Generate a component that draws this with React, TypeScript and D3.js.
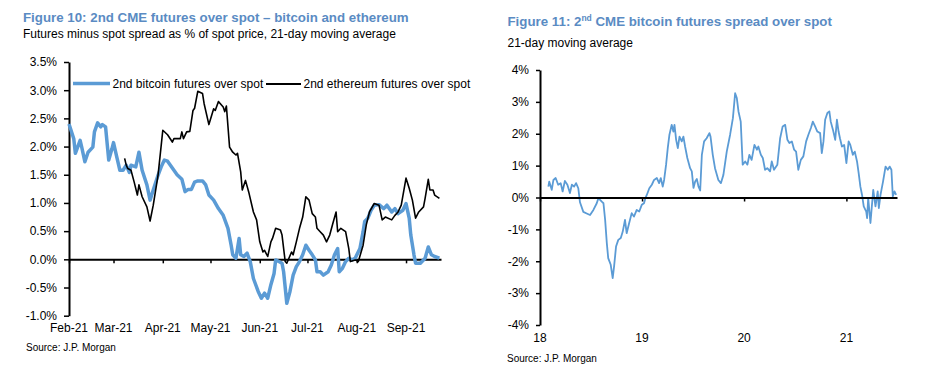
import * as d3 from "d3";
import React, { useRef, useEffect } from "react";

// Figure 10 - 2nd CME futures over spot, % of spot, 21d MA
const btcDates = [
  "2021-02-01", "2021-02-04", "2021-02-05", "2021-02-08", "2021-02-09", "2021-02-11", "2021-02-13",
  "2021-02-16", "2021-02-17", "2021-02-19", "2021-02-21", "2021-02-22", "2021-02-24", "2021-02-26",
  "2021-02-28", "2021-03-01", "2021-03-03", "2021-03-05", "2021-03-07", "2021-03-09", "2021-03-11",
  "2021-03-12", "2021-03-15", "2021-03-17", "2021-03-19", "2021-03-22", "2021-03-24", "2021-03-27",
  "2021-03-29", "2021-03-31", "2021-04-02", "2021-04-04", "2021-04-07", "2021-04-10", "2021-04-13",
  "2021-04-15", "2021-04-17", "2021-04-19", "2021-04-21", "2021-04-23", "2021-04-26", "2021-04-28",
  "2021-04-30", "2021-05-03", "2021-05-06", "2021-05-09", "2021-05-12", "2021-05-14", "2021-05-15",
  "2021-05-17", "2021-05-18", "2021-05-19", "2021-05-20", "2021-05-22", "2021-05-24", "2021-05-26",
  "2021-05-28", "2021-05-31", "2021-06-02", "2021-06-04", "2021-06-06", "2021-06-08", "2021-06-10",
  "2021-06-11", "2021-06-13", "2021-06-15", "2021-06-16", "2021-06-18", "2021-06-20", "2021-06-22",
  "2021-06-24", "2021-06-26", "2021-06-28", "2021-06-30", "2021-07-02", "2021-07-04", "2021-07-06",
  "2021-07-07", "2021-07-09", "2021-07-11", "2021-07-14", "2021-07-16", "2021-07-18", "2021-07-20",
  "2021-07-21", "2021-07-23", "2021-07-25", "2021-07-27", "2021-07-29", "2021-07-31", "2021-08-03",
  "2021-08-05", "2021-08-06", "2021-08-08", "2021-08-10", "2021-08-12", "2021-08-15", "2021-08-18",
  "2021-08-20", "2021-08-23", "2021-08-25", "2021-08-27", "2021-08-30", "2021-09-01", "2021-09-03",
  "2021-09-04", "2021-09-06", "2021-09-07", "2021-09-10", "2021-09-13", "2021-09-15", "2021-09-17",
  "2021-09-19", "2021-09-22",
];
const btcValues = [
  2.4, 2.14, 1.88, 2.11, 1.99, 1.73, 1.9,
  1.99, 2.26, 2.42, 2.35, 2.39, 2.35, 1.76,
  1.96, 2.07, 1.82, 1.58, 1.58, 1.67, 1.54,
  1.67, 1.64, 1.9, 1.58, 1.32, 1.05, 1.32,
  1.49, 1.64, 1.76, 1.74, 1.62, 1.5, 1.42,
  1.2, 1.24, 1.24, 1.37, 1.39, 1.39, 1.32,
  1.14, 1.05, 0.9, 0.78, 0.55, 0.25, 0.08,
  0.02, 0.19, 0.37, 0.08, 0.05, 0.11, -0.04,
  -0.34, -0.57, -0.69, -0.6, -0.69, -0.45, -0.25,
  -0.01, -0.04, -0.07, -0.22, -0.78, -0.57, -0.28,
  -0.13, -0.04, 0.08, 0.25, 0.16, 0.08, -0.01,
  -0.22, -0.22, -0.28, -0.22, -0.1, 0.08, 0.19,
  -0.22, -0.16, -0.04, 0.02, -0.01, 0.02, 0.19,
  0.49, 0.67, 0.73, 0.87, 0.96, 0.97, 0.9,
  0.96, 0.84, 0.9, 0.81, 0.87, 0.99, 0.73,
  0.43, 0.08, -0.07, -0.07, 0.02, 0.22, 0.08,
  0.05, 0.02,
];

const ethDates = [
  "2021-03-08", "2021-03-09", "2021-03-10", "2021-03-12", "2021-03-14", "2021-03-16", "2021-03-17",
  "2021-03-19", "2021-03-22", "2021-03-24", "2021-03-26", "2021-03-29", "2021-03-31", "2021-04-01",
  "2021-04-04", "2021-04-07", "2021-04-08", "2021-04-12", "2021-04-13", "2021-04-14", "2021-04-16",
  "2021-04-18", "2021-04-20", "2021-04-21", "2021-04-23", "2021-04-26", "2021-04-27", "2021-04-30",
  "2021-05-03", "2021-05-04", "2021-05-06", "2021-05-09", "2021-05-10", "2021-05-11", "2021-05-13",
  "2021-05-15", "2021-05-17", "2021-05-18", "2021-05-20", "2021-05-21", "2021-05-23", "2021-05-25",
  "2021-05-28", "2021-05-30", "2021-06-01", "2021-06-03", "2021-06-04", "2021-06-06", "2021-06-08",
  "2021-06-09", "2021-06-11", "2021-06-14", "2021-06-15", "2021-06-17", "2021-06-18", "2021-06-21",
  "2021-06-22", "2021-06-24", "2021-06-26", "2021-06-28", "2021-06-30", "2021-07-02", "2021-07-04",
  "2021-07-06", "2021-07-07", "2021-07-09", "2021-07-11", "2021-07-13", "2021-07-15", "2021-07-17",
  "2021-07-19", "2021-07-20", "2021-07-22", "2021-07-25", "2021-07-27", "2021-07-28", "2021-07-31",
  "2021-08-02", "2021-08-05", "2021-08-07", "2021-08-09", "2021-08-12", "2021-08-15", "2021-08-17",
  "2021-08-19", "2021-08-23", "2021-08-25", "2021-08-27", "2021-08-29", "2021-09-01", "2021-09-03",
  "2021-09-05", "2021-09-07", "2021-09-09", "2021-09-12", "2021-09-13", "2021-09-15", "2021-09-16",
  "2021-09-18", "2021-09-19", "2021-09-22",
];
const ethValues = [
  1.79, 1.67, 1.61, 1.58, 1.37, 1.14, 1.32,
  1.11, 0.93, 0.68, 0.96, 1.49, 2.02, 2.29,
  2.21, 2.08, 2.14, 2.14, 2.26, 2.14, 2.26,
  2.27, 2.64, 2.68, 2.98, 2.94, 2.76, 2.39,
  2.67, 2.64, 2.8, 2.7, 2.62, 2.72, 1.99,
  1.9, 1.85, 1.88, 1.55, 1.23, 1.4, 1.2,
  0.84, 0.7, 0.31, 0.13, 0.16, 0.05, 0.31,
  0.37, 0.55, 0.52, 0.43, -0.04, -0.07, 0.13,
  0.08, 0.31, 0.55, 0.75, 1.11, 1.05, 0.81,
  0.75, 0.55, 0.49, 0.43, 0.31, 0.43, 0.64,
  0.84, 0.49, 0.55, 0.49, 0.19, -0.04, -0.01,
  -0.04, 0.25, 0.61, 0.84, 0.99, 0.96, 0.7,
  0.75, 0.7, 0.78, 0.84, 0.96, 1.44, 1.26,
  1.05, 0.73, 0.84, 0.93, 1.08, 1.42, 1.23,
  1.23, 1.14, 1.08,
];

const leftYTicks = [-1, -0.5, 0, 0.5, 1, 1.5, 2, 2.5, 3, 3.5];
const leftMonthTicks = [
  "2021-02-01", "2021-03-01", "2021-04-01", "2021-05-01",
  "2021-06-01", "2021-07-01", "2021-08-01", "2021-09-01",
];

// Figure 11 - 2nd CME bitcoin futures spread over spot, 21d MA
const spreadDates = [
  "2018-01-31", "2018-02-03", "2018-02-12", "2018-02-18", "2018-02-26", "2018-03-07", "2018-03-16",
  "2018-03-23", "2018-03-31", "2018-04-09", "2018-04-18", "2018-04-25", "2018-05-03", "2018-05-10",
  "2018-05-18", "2018-05-24", "2018-06-05", "2018-06-17", "2018-06-29", "2018-07-11", "2018-07-23",
  "2018-07-29", "2018-08-10", "2018-08-16", "2018-08-22", "2018-08-28", "2018-09-02", "2018-09-11",
  "2018-09-18", "2018-09-23", "2018-09-30", "2018-10-08", "2018-10-17", "2018-10-24", "2018-11-01",
  "2018-11-07", "2018-11-16", "2018-11-25", "2018-12-03", "2018-12-13", "2018-12-22", "2018-12-31",
  "2019-01-08", "2019-01-13", "2019-01-18", "2019-01-27", "2019-02-05", "2019-02-13", "2019-02-23",
  "2019-03-03", "2019-03-09", "2019-03-16", "2019-03-21", "2019-03-28", "2019-04-03", "2019-04-09",
  "2019-04-17", "2019-04-23", "2019-04-27", "2019-05-03", "2019-05-09", "2019-05-15", "2019-05-23",
  "2019-05-29", "2019-06-04", "2019-06-12", "2019-06-22", "2019-06-28", "2019-07-04", "2019-07-10",
  "2019-07-16", "2019-07-22", "2019-07-28", "2019-08-03", "2019-08-11", "2019-08-20", "2019-08-30",
  "2019-09-03", "2019-09-11", "2019-09-19", "2019-10-01", "2019-10-10", "2019-10-19", "2019-10-31",
  "2019-11-12", "2019-11-22", "2019-11-30", "2019-12-06", "2019-12-12", "2019-12-20", "2019-12-27",
  "2020-01-05", "2020-01-13", "2020-01-20", "2020-01-28", "2020-02-07", "2020-02-16", "2020-02-21",
  "2020-03-01", "2020-03-08", "2020-03-16", "2020-03-24", "2020-04-03", "2020-04-09", "2020-04-17",
  "2020-04-29", "2020-05-09", "2020-05-18", "2020-05-27", "2020-06-04", "2020-06-11", "2020-06-20",
  "2020-06-28", "2020-07-05", "2020-07-13", "2020-07-22", "2020-07-31", "2020-08-10", "2020-08-18",
  "2020-08-27", "2020-09-03", "2020-09-11", "2020-09-19", "2020-09-29", "2020-10-05", "2020-10-11",
  "2020-10-17", "2020-10-25", "2020-11-01", "2020-11-06", "2020-11-14", "2020-11-22", "2020-11-28",
  "2020-12-04", "2020-12-09", "2020-12-16", "2020-12-24", "2021-01-01", "2021-01-09", "2021-01-15",
  "2021-01-24", "2021-01-31", "2021-02-08", "2021-02-14", "2021-02-20", "2021-02-26", "2021-03-04",
  "2021-03-13", "2021-03-16", "2021-03-20", "2021-03-28", "2021-04-07", "2021-04-15", "2021-04-23",
  "2021-04-27", "2021-05-03", "2021-05-12", "2021-05-21", "2021-05-29", "2021-06-05", "2021-06-11",
  "2021-06-16", "2021-06-22", "2021-06-28",
];
const spreadValues = [
  0.34, 0.5, 0.24, 0.55, 0.61, 0.4, 0.45,
  0.19, 0.52, 0.4, 0.14, 0.4, 0.34, 0.45,
  0.29, -0.15, -0.45, -0.5, -0.55, -0.39, -0.18,
  -0.02, -0.13, -0.18, -0.7, -1.43, -1.9, -2.11,
  -2.53, -2.16, -1.54, -1.33, -1.27, -1.07, -0.7,
  -1.12, -0.8, -0.49, -0.6, -0.39, -0.44, -0.23,
  -0.18, -0.02, 0.08, 0.29, 0.4, 0.55, 0.61,
  0.45, 0.61, 0.34, 0.55, 1.03, 1.55, 1.97,
  2.28, 2.07, 2.28, 1.81, 1.55, 1.91, 1.76,
  1.91, 1.6, 1.24, 0.92, 0.82, 0.3, 0.5,
  0.58, 0.34, 0.22, 1.34, 1.76, 1.86, 2.02,
  1.91, 1.34, 0.92, 0.55, 0.45, 0.71, 1.44,
  1.97, 2.49, 3.27, 3.12, 2.7, 2.38, 1.03,
  1.13, 1.03, 1.34, 1.18, 1.65, 1.5, 1.6,
  1.34, 1.24, 0.87, 0.92, 0.82, 1.13, 0.87,
  1.03, 1.86, 2.23, 2.28, 1.81, 1.71, 1.76,
  1.5, 1.44, 0.87, 1.18, 1.29, 1.76, 1.97,
  2.18, 2.38, 2.23, 2.07, 2.02, 1.39, 1.76,
  2.44, 2.65, 2.7, 2.38, 2.12, 1.81, 2.44,
  2.07, 1.86, 1.6, 1.65, 1.08, 1.76, 1.65,
  1.34, 1.44, 1.13, 0.76, 0.34, 0.08, -0.28,
  -0.44, -0.65, -0.02, -0.8, 0.24, -0.28, 0.19,
  -0.33, 0.08, 0.5, 0.97, 0.87, 0.97, 0.87,
  0.03, 0.19, 0.08,
];

const rightYTicks = [-4, -3, -2, -1, 0, 1, 2, 3, 4];
const rightYearTicks = ["2018-01-01", "2019-01-01", "2020-01-01", "2021-01-01"];

const FONT = "'Liberation Sans', Arial, sans-serif";
const TITLE_BLUE = "#5a8bc3";
const LINE_BLUE = "#5b9bd5";
const parse = d3.timeParse("%Y-%m-%d");

const styleAxis = (g) => {
  g.select(".domain").attr("stroke", "#000").attr("stroke-width", 2);
  g.selectAll(".tick line").attr("stroke", "#000").attr("stroke-width", 1.5);
  g.selectAll(".tick text").attr("font-family", FONT).attr("font-size", 12).attr("fill", "#000");
};

const drawLeft = (svg) => {
  const g = svg.append("g");

  g.append("text").attr("x", 23).attr("y", 21.5).attr("font-family", FONT)
    .attr("font-size", 13.3).attr("font-weight", "bold").attr("fill", TITLE_BLUE)
    .text("Figure 10: 2nd CME futures over spot \u2013 bitcoin and ethereum");
  g.append("text").attr("x", 23).attr("y", 38).attr("font-family", FONT)
    .attr("font-size", 12).attr("fill", "#000")
    .text("Futures minus spot spread as % of spot price, 21-day moving average");

  const x = d3.scaleTime()
    .domain([parse("2021-02-01"), parse("2021-09-23")])
    .range([69, 441]);
  const y = d3.scaleLinear().domain([-1, 3.5]).range([315.7, 62]);

  // y axis
  g.append("g")
    .attr("transform", "translate(69,0)")
    .call(d3.axisLeft(y).tickValues(leftYTicks).tickSize(5).tickSizeOuter(0).tickPadding(7)
      .tickFormat((d) => `${d.toFixed(1)}%`))
    .call(styleAxis);

  // zero line with month ticks
  g.append("g")
    .attr("transform", `translate(0,${y(0)})`)
    .call(d3.axisBottom(x).tickValues(leftMonthTicks.map(parse)).tickSize(4).tickSizeOuter(0)
      .tickFormat(() => ""))
    .call(styleAxis);

  g.selectAll(".month")
    .data(leftMonthTicks)
    .enter()
    .append("text")
    .attr("x", (d) => x(parse(d)))
    .attr("y", 331.5)
    .attr("text-anchor", "middle")
    .attr("font-family", FONT)
    .attr("font-size", 12)
    .text((d) => d3.timeFormat("%b-%y")(parse(d)));

  const line = d3.line()
    .x((d) => x(parse(d[0])))
    .y((d) => y(d[1]));

  g.append("path")
    .datum(d3.zip(btcDates, btcValues))
    .attr("d", line)
    .attr("fill", "none")
    .attr("stroke", LINE_BLUE)
    .attr("stroke-width", 3.5)
    .attr("stroke-linejoin", "round");

  g.append("path")
    .datum(d3.zip(ethDates, ethValues))
    .attr("d", line)
    .attr("fill", "none")
    .attr("stroke", "#000")
    .attr("stroke-width", 1.6)
    .attr("stroke-linejoin", "round");

  // legend
  const legend = [
    { label: "2nd bitcoin futures over spot", color: LINE_BLUE, w: 3.5, x0: 73, x1: 110, y: 83.5 },
    { label: "2nd ethereum futures over spot", color: "#000", w: 2, x0: 266, x1: 301, y: 84 },
  ];
  legend.forEach((l) => {
    g.append("line").attr("x1", l.x0).attr("x2", l.x1).attr("y1", l.y).attr("y2", l.y)
      .attr("stroke", l.color).attr("stroke-width", l.w);
    g.append("text").attr("x", l.x1 + 2.5).attr("y", l.y + 4.2).attr("font-family", FONT)
      .attr("font-size", 12).text(l.label);
  });

  g.append("text").attr("x", 26).attr("y", 350.5).attr("font-family", FONT)
    .attr("font-size", 10).text("Source: J.P. Morgan");
};

const drawRight = (svg) => {
  const g = svg.append("g");

  const title = g.append("text").attr("x", 507.5).attr("y", 26).attr("font-family", FONT)
    .attr("font-size", 13.3).attr("font-weight", "bold").attr("fill", TITLE_BLUE);
  title.append("tspan").text("Figure 11: 2");
  title.append("tspan").attr("font-size", 8.5).attr("dy", -5).text("nd");
  title.append("tspan").attr("dy", 5).text(" CME bitcoin futures spread over spot");

  g.append("text").attr("x", 507.5).attr("y", 46.5).attr("font-family", FONT)
    .attr("font-size", 12).text("21-day moving average");

  const x = d3.scaleTime()
    .domain([parse("2018-01-01"), parse("2021-07-01")])
    .range([540, 897]);
  const y = d3.scaleLinear().domain([-4, 4]).range([325, 70]);

  g.append("g")
    .attr("transform", "translate(540,0)")
    .call(d3.axisLeft(y).tickValues(rightYTicks).tickSize(4).tickSizeOuter(0).tickPadding(7)
      .tickFormat((d) => `${d}%`))
    .call(styleAxis);

  const line = d3.line()
    .x((d) => x(parse(d[0])))
    .y((d) => y(d[1]));

  g.append("path")
    .datum(d3.zip(spreadDates, spreadValues))
    .attr("d", line)
    .attr("fill", "none")
    .attr("stroke", LINE_BLUE)
    .attr("stroke-width", 1.8)
    .attr("stroke-linejoin", "round");

  g.append("g")
    .attr("transform", `translate(0,${y(0)})`)
    .call(d3.axisBottom(x).tickValues(rightYearTicks.map(parse)).tickSize(4).tickSizeOuter(0)
      .tickFormat(() => ""))
    .call(styleAxis);

  g.selectAll(".year")
    .data(rightYearTicks)
    .enter()
    .append("text")
    .attr("x", (d) => x(parse(d)))
    .attr("y", 341.5)
    .attr("text-anchor", "middle")
    .attr("font-family", FONT)
    .attr("font-size", 12)
    .text((d) => d3.timeFormat("%y")(parse(d)));

  g.append("text").attr("x", 507).attr("y", 361.5).attr("font-family", FONT)
    .attr("font-size", 10).text("Source: J.P. Morgan");
};

export default function App() {
  const ref = useRef(null);

  useEffect(() => {
    const svg = d3.select(ref.current);
    svg.selectAll("*").remove();
    drawLeft(svg);
    drawRight(svg);
  }, []);

  return (
    <svg
      ref={ref}
      width={927}
      height={370}
      style={{ position: "absolute", left: 0, top: 0, background: "#fff" }}
    ></svg>
  );
}
